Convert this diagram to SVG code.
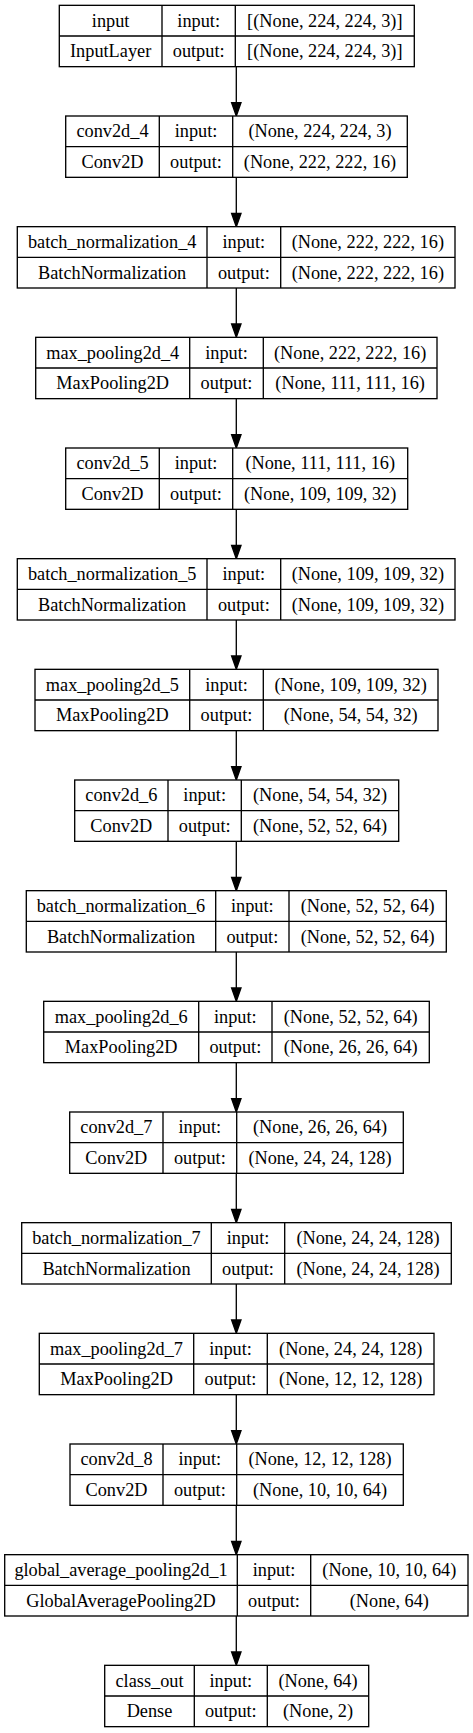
<svg xmlns="http://www.w3.org/2000/svg" width="473" height="1733" viewBox="0 0 473 1733">
<style>
.b{fill:#fff;stroke:#000;stroke-width:1.33}
.d{fill:none;stroke:#000;stroke-width:1.33}
.e line{stroke:#000;stroke-width:1.33}
.e polygon{fill:#000;stroke:#000;stroke-width:1.33}
</style>
<rect width="473" height="1733" fill="#fff"/>
<g id="connectors" class="e">
<line x1="236.3" y1="66.67" x2="236.3" y2="102.67"/><polygon points="231.6,102.67 241,102.67 236.3,116"/>
<line x1="236.3" y1="177.33" x2="236.3" y2="213.33"/><polygon points="231.6,213.33 241,213.33 236.3,226.67"/>
<line x1="236.3" y1="288" x2="236.3" y2="324"/><polygon points="231.6,324 241,324 236.3,337.33"/>
<line x1="236.3" y1="398.67" x2="236.3" y2="434.67"/><polygon points="231.6,434.67 241,434.67 236.3,448"/>
<line x1="236.3" y1="509.33" x2="236.3" y2="545.33"/><polygon points="231.6,545.33 241,545.33 236.3,558.67"/>
<line x1="236.3" y1="620" x2="236.3" y2="656"/><polygon points="231.6,656 241,656 236.3,669.33"/>
<line x1="236.3" y1="730.67" x2="236.3" y2="766.67"/><polygon points="231.6,766.67 241,766.67 236.3,780"/>
<line x1="236.3" y1="841.33" x2="236.3" y2="877.33"/><polygon points="231.6,877.33 241,877.33 236.3,890.67"/>
<line x1="236.3" y1="952" x2="236.3" y2="988"/><polygon points="231.6,988 241,988 236.3,1001.33"/>
<line x1="236.3" y1="1062.67" x2="236.3" y2="1098.67"/><polygon points="231.6,1098.67 241,1098.67 236.3,1112"/>
<line x1="236.3" y1="1173.33" x2="236.3" y2="1209.33"/><polygon points="231.6,1209.33 241,1209.33 236.3,1222.67"/>
<line x1="236.3" y1="1284" x2="236.3" y2="1320"/><polygon points="231.6,1320 241,1320 236.3,1333.33"/>
<line x1="236.3" y1="1394.67" x2="236.3" y2="1430.67"/><polygon points="231.6,1430.67 241,1430.67 236.3,1444"/>
<line x1="236.3" y1="1505.33" x2="236.3" y2="1541.33"/><polygon points="231.6,1541.33 241,1541.33 236.3,1554.67"/>
<line x1="236.3" y1="1616" x2="236.3" y2="1652"/><polygon points="231.6,1652 241,1652 236.3,1665.33"/>
</g>
<g id="nodes" font-family="'Liberation Serif', 'Times New Roman', Times, serif" font-size="18.3" text-anchor="middle" fill="#000">

<g id="n0" transform="translate(0,5.33)">
<rect class="b" x="59.3" y="0" width="355" height="61.33"/>
<path class="d" d="M59.3 30.67H414.3M162 0V61.33M235.3 0V61.33"/>
<text x="110.65" y="21.33">input</text><text x="110.65" y="52">InputLayer</text>
<text x="198.65" y="21.33">input:</text><text x="198.65" y="52">output:</text>
<text x="324.8" y="21.33">[(None, 224, 224, 3)]</text><text x="324.8" y="52">[(None, 224, 224, 3)]</text>
</g>

<g id="n1" transform="translate(0,116)">
<rect class="b" x="65.7" y="0" width="341.6" height="61.33"/>
<path class="d" d="M65.7 30.67H407.3M159.3 0V61.33M232.7 0V61.33"/>
<text x="112.5" y="21.33">conv2d_4</text><text x="112.5" y="52">Conv2D</text>
<text x="196" y="21.33">input:</text><text x="196" y="52">output:</text>
<text x="320" y="21.33">(None, 224, 224, 3)</text><text x="320" y="52">(None, 222, 222, 16)</text>
</g>

<g id="n2" transform="translate(0,226.67)">
<rect class="b" x="17.3" y="0" width="437.7" height="61.33"/>
<path class="d" d="M17.3 30.67H455M207 0V61.33M280.7 0V61.33"/>
<text x="112.15" y="21.33">batch_normalization_4</text><text x="112.15" y="52">BatchNormalization</text>
<text x="243.85" y="21.33">input:</text><text x="243.85" y="52">output:</text>
<text x="367.85" y="21.33">(None, 222, 222, 16)</text><text x="367.85" y="52">(None, 222, 222, 16)</text>
</g>

<g id="n3" transform="translate(0,337.33)">
<rect class="b" x="35.7" y="0" width="401.3" height="61.33"/>
<path class="d" d="M35.7 30.67H437M189.7 0V61.33M263.3 0V61.33"/>
<text x="112.7" y="21.33">max_pooling2d_4</text><text x="112.7" y="52">MaxPooling2D</text>
<text x="226.5" y="21.33">input:</text><text x="226.5" y="52">output:</text>
<text x="350.15" y="21.33">(None, 222, 222, 16)</text><text x="350.15" y="52">(None, 111, 111, 16)</text>
</g>

<g id="n4" transform="translate(0,448)">
<rect class="b" x="65.7" y="0" width="342" height="61.33"/>
<path class="d" d="M65.7 30.67H407.7M159.3 0V61.33M232.7 0V61.33"/>
<text x="112.5" y="21.33">conv2d_5</text><text x="112.5" y="52">Conv2D</text>
<text x="196" y="21.33">input:</text><text x="196" y="52">output:</text>
<text x="320.2" y="21.33">(None, 111, 111, 16)</text><text x="320.2" y="52">(None, 109, 109, 32)</text>
</g>

<g id="n5" transform="translate(0,558.67)">
<rect class="b" x="17.3" y="0" width="437.7" height="61.33"/>
<path class="d" d="M17.3 30.67H455M207 0V61.33M280.7 0V61.33"/>
<text x="112.15" y="21.33">batch_normalization_5</text><text x="112.15" y="52">BatchNormalization</text>
<text x="243.85" y="21.33">input:</text><text x="243.85" y="52">output:</text>
<text x="367.85" y="21.33">(None, 109, 109, 32)</text><text x="367.85" y="52">(None, 109, 109, 32)</text>
</g>

<g id="n6" transform="translate(0,669.33)">
<rect class="b" x="35" y="0" width="403" height="61.33"/>
<path class="d" d="M35 30.67H438M189.7 0V61.33M263.3 0V61.33"/>
<text x="112.35" y="21.33">max_pooling2d_5</text><text x="112.35" y="52">MaxPooling2D</text>
<text x="226.5" y="21.33">input:</text><text x="226.5" y="52">output:</text>
<text x="350.65" y="21.33">(None, 109, 109, 32)</text><text x="350.65" y="52">(None, 54, 54, 32)</text>
</g>

<g id="n7" transform="translate(0,780)">
<rect class="b" x="74.7" y="0" width="324" height="61.33"/>
<path class="d" d="M74.7 30.67H398.7M168 0V61.33M241.3 0V61.33"/>
<text x="121.35" y="21.33">conv2d_6</text><text x="121.35" y="52">Conv2D</text>
<text x="204.65" y="21.33">input:</text><text x="204.65" y="52">output:</text>
<text x="320" y="21.33">(None, 54, 54, 32)</text><text x="320" y="52">(None, 52, 52, 64)</text>
</g>

<g id="n8" transform="translate(0,890.67)">
<rect class="b" x="26.3" y="0" width="420" height="61.33"/>
<path class="d" d="M26.3 30.67H446.3M215.7 0V61.33M289 0V61.33"/>
<text x="121" y="21.33">batch_normalization_6</text><text x="121" y="52">BatchNormalization</text>
<text x="252.35" y="21.33">input:</text><text x="252.35" y="52">output:</text>
<text x="367.65" y="21.33">(None, 52, 52, 64)</text><text x="367.65" y="52">(None, 52, 52, 64)</text>
</g>

<g id="n9" transform="translate(0,1001.33)">
<rect class="b" x="43.7" y="0" width="385.6" height="61.33"/>
<path class="d" d="M43.7 30.67H429.3M198.7 0V61.33M272 0V61.33"/>
<text x="121.2" y="21.33">max_pooling2d_6</text><text x="121.2" y="52">MaxPooling2D</text>
<text x="235.35" y="21.33">input:</text><text x="235.35" y="52">output:</text>
<text x="350.65" y="21.33">(None, 52, 52, 64)</text><text x="350.65" y="52">(None, 26, 26, 64)</text>
</g>

<g id="n10" transform="translate(0,1112)">
<rect class="b" x="69.7" y="0" width="333.6" height="61.33"/>
<path class="d" d="M69.7 30.67H403.3M163 0V61.33M236.7 0V61.33"/>
<text x="116.35" y="21.33">conv2d_7</text><text x="116.35" y="52">Conv2D</text>
<text x="199.85" y="21.33">input:</text><text x="199.85" y="52">output:</text>
<text x="320" y="21.33">(None, 26, 26, 64)</text><text x="320" y="52">(None, 24, 24, 128)</text>
</g>

<g id="n11" transform="translate(0,1222.67)">
<rect class="b" x="21.7" y="0" width="429.6" height="61.33"/>
<path class="d" d="M21.7 30.67H451.3M211.3 0V61.33M284.7 0V61.33"/>
<text x="116.5" y="21.33">batch_normalization_7</text><text x="116.5" y="52">BatchNormalization</text>
<text x="248" y="21.33">input:</text><text x="248" y="52">output:</text>
<text x="368" y="21.33">(None, 24, 24, 128)</text><text x="368" y="52">(None, 24, 24, 128)</text>
</g>

<g id="n12" transform="translate(0,1333.33)">
<rect class="b" x="39.3" y="0" width="394.7" height="61.33"/>
<path class="d" d="M39.3 30.67H434M193.7 0V61.33M267.3 0V61.33"/>
<text x="116.5" y="21.33">max_pooling2d_7</text><text x="116.5" y="52">MaxPooling2D</text>
<text x="230.5" y="21.33">input:</text><text x="230.5" y="52">output:</text>
<text x="350.65" y="21.33">(None, 24, 24, 128)</text><text x="350.65" y="52">(None, 12, 12, 128)</text>
</g>

<g id="n13" transform="translate(0,1444)">
<rect class="b" x="70" y="0" width="333.3" height="61.33"/>
<path class="d" d="M70 30.67H403.3M163 0V61.33M236.7 0V61.33"/>
<text x="116.5" y="21.33">conv2d_8</text><text x="116.5" y="52">Conv2D</text>
<text x="199.85" y="21.33">input:</text><text x="199.85" y="52">output:</text>
<text x="320" y="21.33">(None, 12, 12, 128)</text><text x="320" y="52">(None, 10, 10, 64)</text>
</g>

<g id="n14" transform="translate(0,1554.67)">
<rect class="b" x="4.7" y="0" width="463.3" height="61.33"/>
<path class="d" d="M4.7 30.67H468M237.3 0V61.33M310.7 0V61.33"/>
<text x="121" y="21.33">global_average_pooling2d_1</text><text x="121" y="52">GlobalAveragePooling2D</text>
<text x="274" y="21.33">input:</text><text x="274" y="52">output:</text>
<text x="389.35" y="21.33">(None, 10, 10, 64)</text><text x="389.35" y="52">(None, 64)</text>
</g>

<g id="n15" transform="translate(0,1665.33)">
<rect class="b" x="104.7" y="0" width="264" height="61.33"/>
<path class="d" d="M104.7 30.67H368.7M194.3 0V61.33M267.3 0V61.33"/>
<text x="149.5" y="21.33">class_out</text><text x="149.5" y="52">Dense</text>
<text x="230.8" y="21.33">input:</text><text x="230.8" y="52">output:</text>
<text x="318" y="21.33">(None, 64)</text><text x="318" y="52">(None, 2)</text>
</g>
</g>
</svg>
